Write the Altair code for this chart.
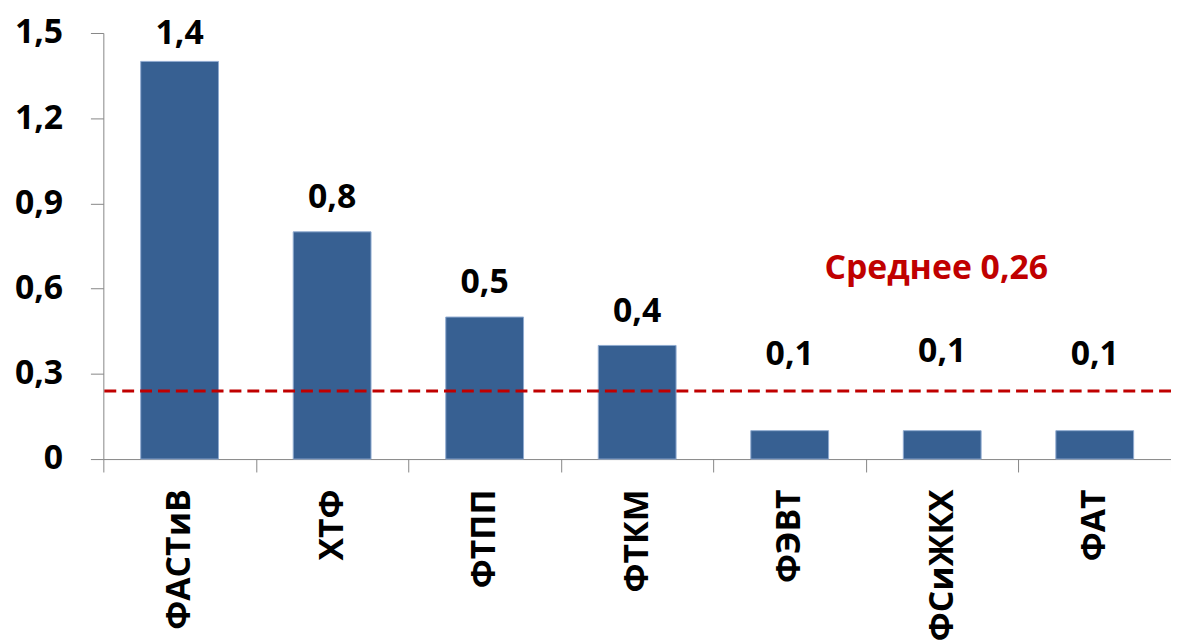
import altair as alt
import pandas as pd

categories = ["ФАСТиВ", "ХТФ", "ФТПП", "ФТКМ", "ФЭВТ", "ФСиЖКХ", "ФАТ"]
values = [1.4, 0.8, 0.5, 0.4, 0.1, 0.1, 0.1]
label_texts = ["1,4", "0,8", "0,5", "0,4", "0,1", "0,1", "0,1"]
label_levels = [1.46, 0.885, 0.584, 0.483, 0.332, 0.343, 0.332]
mean_line = 0.24
mean_text = "Среднее 0,26"
mean_text_cat = "ФСиЖКХ"
mean_text_level = 0.67
y_ticks = [0, 0.3, 0.6, 0.9, 1.2, 1.5]

df = pd.DataFrame({"cat": categories, "value": values,
                   "label": label_texts, "lev": label_levels})
mean_df = pd.DataFrame({"m": [mean_line]})
ann_df = pd.DataFrame({"cat": [mean_text_cat], "lev": [mean_text_level], "t": [mean_text]})

FONT = "Open Sans"
FS = 34

x_enc = alt.X("cat:N", sort=categories, title=None,
              scale=alt.Scale(paddingInner=0, paddingOuter=0),
              axis=alt.Axis(labelAngle=-90, labelFont=FONT, labelFontSize=FS,
                            labelFontWeight="bold", labelColor="black",
                            labelPadding=17, tickSize=13, tickBand="extent",
                            domainColor="#868686", tickColor="#868686",
                            labelOverlap=False, labelLimit=400))
y_scale = alt.Scale(domain=[0, 1.5], nice=False, zero=True)
y_axis = alt.Axis(values=y_ticks, labelFont=FONT, labelFontSize=FS,
                  labelFontWeight="bold", labelColor="black", labelPadding=28,
                  tickSize=13, domainColor="#868686", tickColor="#868686",
                  grid=False,
                  labelExpr="datum.value == 0 ? '0' : replace(format(datum.value, '.1f'), '.', ',')")

bars = alt.Chart(df).mark_bar(width=alt.RelativeBandSize(0.51), color="#376092",
                              stroke="#8FAAD0", strokeWidth=1).encode(
    x=x_enc,
    y=alt.Y("value:Q", scale=y_scale, axis=y_axis, title=None),
)

labels = alt.Chart(df).mark_text(font=FONT, fontSize=FS, fontWeight="bold",
                                 color="black", baseline="alphabetic").encode(
    x=alt.X("cat:N", sort=categories),
    y=alt.Y("lev:Q", scale=y_scale),
    text="label:N",
)

rule = alt.Chart(mean_df).mark_rule(color="#C00000", strokeWidth=3,
                                    strokeDash=[12, 6]).encode(
    y=alt.Y("m:Q", scale=y_scale),
)

ann = alt.Chart(ann_df).mark_text(font=FONT, fontSize=FS, fontWeight="bold",
                                  color="#C00000", baseline="middle", dx=-6).encode(
    x=alt.X("cat:N", sort=categories),
    y=alt.Y("lev:Q", scale=y_scale),
    text="t:N",
)

chart = alt.layer(bars, rule, labels, ann).properties(
    width=1075, height=429,
    autosize=alt.AutoSizeParams(type="none"),
    padding={"left": 96, "top": 23, "right": 0, "bottom": 180},
).configure_view(stroke=None)

chart.save("out.html", embed_options={"renderer": "svg", "actions": False})
